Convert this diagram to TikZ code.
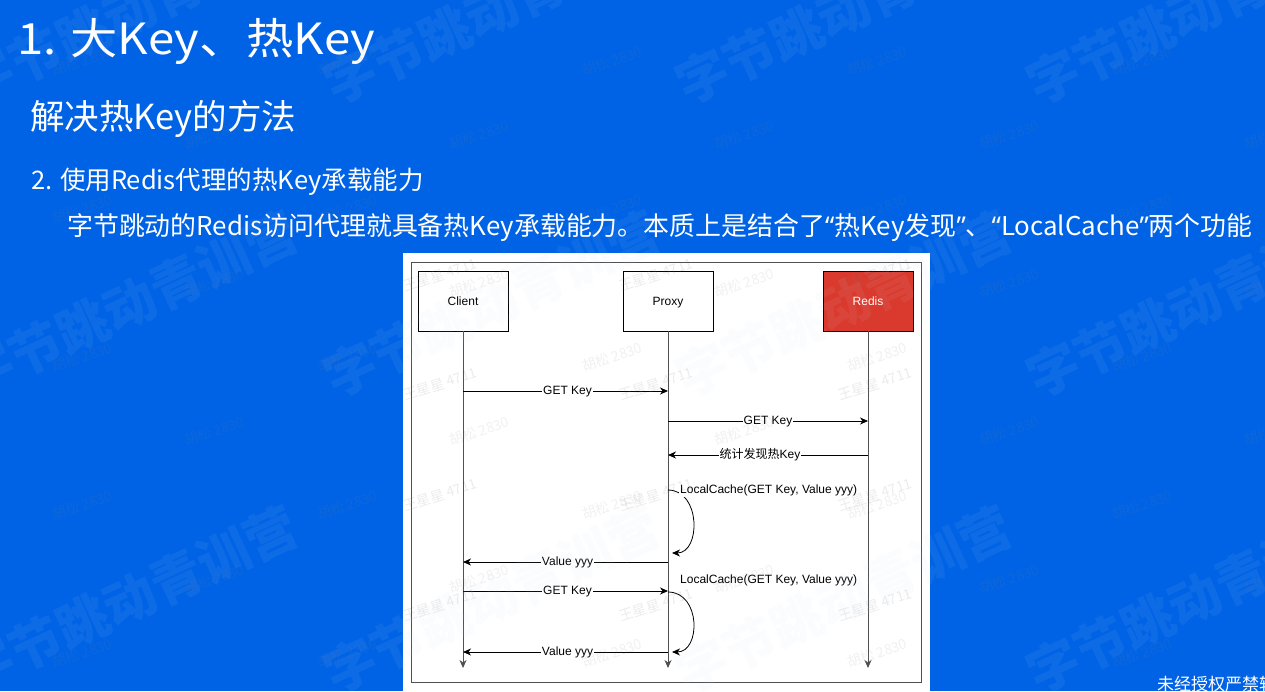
\documentclass[tikz,border=0pt]{standalone}
\usepackage{fontspec}
\usepackage{graphicx}
\setmainfont{Noto Sans CJK SC}
\newfontfamily\cjk{Noto Sans CJK SC}
\newfontfamily\hel{Liberation Sans}
\newfontfamily\qf{Noto Sans}
\usetikzlibrary{arrows.meta}
\definecolor{bgblue}{RGB}{0,99,229}
\definecolor{redisred}{RGB}{218,58,45}
\definecolor{wmbig}{RGB}{205,220,245}
\definecolor{lifegray}{RGB}{80,80,80}
\begin{document}
\begin{tikzpicture}[x=1pt,y=-1pt,
  box/.style={draw=black, line width=0.8pt, minimum width=90pt, minimum height=60pt, inner sep=0pt, text height=11pt, text depth=2.4pt, font=\hel\fontsize{12}{14}\selectfont},
  tip/.style={-{Stealth[length=8pt,width=7pt,inset=2.5pt]}},
  msg/.style={draw=black, line width=0.8pt, tip},
  life/.style={draw=lifegray, line width=0.8pt, tip},
  lbl/.style={fill=white, inner sep=1pt, text height=9pt, text depth=2.6pt, font=\hel\fontsize{12}{14}\selectfont},
  slide/.style={anchor=base west, inner sep=0pt, text=white},
  bigwm/.style={anchor=west, inner sep=0pt, rotate=25, text=wmbig, opacity=0.07, font=\bfseries\fontsize{52}{60}\selectfont},
  smallwm/.style={inner sep=0pt, rotate=18, text=gray, opacity=0.11, font=\fontsize{14}{16}\selectfont},
  panelwm/.style={inner sep=0pt, rotate=18, text=gray, opacity=0.15, font=\fontsize{14}{16}\selectfont}]
\useasboundingbox (0,0) rectangle (1265,691);
\fill[bgblue] (0,0) rectangle (1265,691);

% slide texts
\node[slide, font=\fontsize{43}{50}\selectfont] (title) at (17,54) {\scalebox{1.1}[1]{1. 大Key、热Key}};
\node[slide, font=\fontsize{34.5}{40}\selectfont] (sub) at (30,129) {解决热Key的方法};
\node[slide, font=\fontsize{25.5}{30}\selectfont] (pt2) at (31,189.5) {2. 使用Redis代理的热Key承载能力};
\node[slide, font=\fontsize{25.9}{30}\selectfont] (desc) at (67,235.5) {字节跳动的Redis访问代理就具备热Key承载能力。本质上是结合了{\qf “}热Key发现{\qf ”}、{\qf “}LocalCache{\qf ”}两个功能};
\node[slide, font=\fontsize{17}{20}\selectfont] (note) at (1157,690) {未经授权严禁转载};

% panel
\fill[white] (403,253) rectangle (930,691);
\draw[lifegray, line width=0.8pt] (411,262) rectangle (921,682);

\node[box] (client) at (463,301) {Client};
\node[box] (proxy) at (668,301) {Proxy};
\node[box, fill=redisred, text=white] (redis) at (868,301) {Redis};

\coordinate (cend) at (463,668);
\coordinate (pend) at (668,668);
\coordinate (rend) at (868,668);
\draw[life] (client.south) -- (cend);
\draw[life] (proxy.south) -- (pend);
\draw[life] (redis.south) -- (rend);

\coordinate (c1) at (463,391); \coordinate (p1) at (668,391);
\coordinate (p2) at (668,421); \coordinate (r2) at (868,421);
\coordinate (p3) at (668,455); \coordinate (r3) at (868,455);
\coordinate (p4) at (668,490); \coordinate (p5) at (672,553);
\coordinate (p6) at (668,562); \coordinate (c6) at (463,562);
\coordinate (c7) at (463,591); \coordinate (p7) at (668,591);
\coordinate (p8) at (668,592); \coordinate (p9) at (672,652);
\coordinate (p10) at (668,652); \coordinate (c10) at (463,652);

\draw[msg] (c1) -- node[lbl, pos=0.51] (l1) {GET Key} (p1);
\draw[msg] (p2) -- node[lbl] (l2) {GET Key} (r2);
\draw[msg] (r3) -- node[lbl, pos=0.54] (l3) {{\cjk 统计发现热}Key} (p3);
\draw[msg] (p4) .. controls (701,490) and (701,553) .. (p5);
\node[lbl, anchor=west] (l4) at (679,490) {LocalCache(GET Key, Value yyy)};
\draw[msg] (p6) -- node[lbl, pos=0.49] (l6) {Value yyy} (c6);
\node[lbl, anchor=west] (l5) at (679,580) {LocalCache(GET Key, Value yyy)};
\draw[msg] (c7) -- node[lbl, pos=0.51] (l7) {GET Key} (p7);
\draw[msg] (p8) .. controls (701,592) and (701,652) .. (p9);
\draw[msg] (p10) -- node[lbl, pos=0.49] (l10) {Value yyy} (c10);

% panel watermarks
\begin{scope}
\clip (403,253) rectangle (930,691);
\foreach \wx in {440,656,875}
  \foreach \wy in {275,384,495,605}
    \node[panelwm] (wx\wx y\wy) at (\wx,\wy) {王星星 4711};
\end{scope}

% big watermarks
\foreach \cx in {-12,350,702,1053}
  \foreach \cy in {77,370,665}
    \node[bigwm] (bw\cx x\cy) at (\cx-23.6,\cy+11) {字节跳动青训营};

% small watermarks
\foreach \i in {0,...,4}
  \foreach \j in {-2,...,2}
    \node[smallwm] (sa\i x\j) at (82+265*\i,357+148*\j) {胡松 2830};
\foreach \i in {-1,...,4}
  \foreach \j in {-1,...,2}
    \node[smallwm] (sb\i x\j) at (214+265*\i,283+148*\j) {胡松 2830};
\end{tikzpicture}
\end{document}
